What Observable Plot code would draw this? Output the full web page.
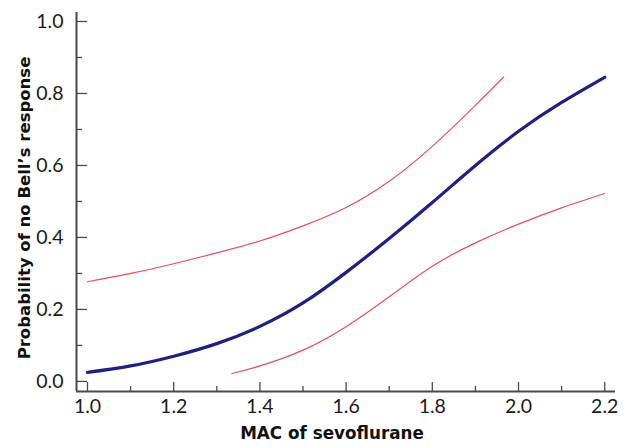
<!DOCTYPE html>
<html><head><meta charset="utf-8">
<script src="https://cdn.jsdelivr.net/npm/d3@7"></script>
<script src="https://cdn.jsdelivr.net/npm/@observablehq/plot@0.6"></script>
<style>body{margin:0;background:#fff}</style>
</head><body><div id="chart"></div>
<script>
// Data
const fitMac = [1.0, 1.1, 1.2, 1.3, 1.4, 1.5, 1.6, 1.7, 1.8, 1.9, 2.0, 2.1, 2.2];
const fitProb = [0.025, 0.043, 0.07, 0.105, 0.153, 0.218, 0.303, 0.397, 0.497, 0.60, 0.695, 0.775, 0.845];
const upperMac = [1.0, 1.1, 1.2, 1.3, 1.4, 1.5, 1.6, 1.7, 1.8, 1.9, 1.965];
const upperProb = [0.277, 0.30, 0.327, 0.357, 0.39, 0.432, 0.483, 0.556, 0.653, 0.767, 0.845];
const lowerMac = [1.335, 1.4, 1.5, 1.6, 1.7, 1.8, 1.9, 2.0, 2.1, 2.2];
const lowerProb = [0.022, 0.043, 0.087, 0.152, 0.235, 0.32, 0.385, 0.437, 0.482, 0.522];
const xTicks = [1.0, 1.2, 1.4, 1.6, 1.8, 2.0, 2.2];
const xMinor = [1.1, 1.3, 1.5, 1.7, 1.9, 2.1];
const yTicks = [0.0, 0.2, 0.4, 0.6, 0.8, 1.0];
const yMinor = [0.1, 0.3, 0.5, 0.7, 0.9];
const xTitle = "MAC of sevoflurane";
const yTitle = "Probability of no Bell\u2019s response";

const fit = fitMac.map((x, i) => ({x, y: fitProb[i]}));
const upper = upperMac.map((x, i) => ({x, y: upperProb[i]}));
const lower = lowerMac.map((x, i) => ({x, y: lowerProb[i]}));

const xDom = [0.9745, 2.225];
const yDom = [-0.028, 1.025];
const axisColor = "#4a4a4a";
const fmt = d3.format(".1f");
const titleFont = "'DejaVu Sans', sans-serif";
const tickFont = "Lato, 'Noto Sans', sans-serif";

const chart = Plot.plot({
  width: 629,
  height: 447,
  marginLeft: 76,
  marginRight: 14,
  marginTop: 12,
  marginBottom: 56,
  style: {fontFamily: tickFont, background: "#fff"},
  x: {domain: xDom, axis: null},
  y: {domain: yDom, axis: null},
  marks: [
    // axis lines
    Plot.ruleX([xDom[0]], {stroke: axisColor, strokeWidth: 2}),
    Plot.ruleY([yDom[0]], {stroke: axisColor, strokeWidth: 2}),
    // inward ticks on y
    Plot.ruleY(yTicks, {y: d => d, x1: xDom[0], x2: xDom[0], insetRight: -11, stroke: axisColor, strokeWidth: 1.3}),
    Plot.ruleY(yMinor, {y: d => d, x1: xDom[0], x2: xDom[0], insetRight: -6, stroke: axisColor, strokeWidth: 1.3}),
    // inward ticks on x
    Plot.ruleX(xTicks, {x: d => d, y1: yDom[0], y2: yDom[0], insetTop: -9, stroke: axisColor, strokeWidth: 1.3}),
    Plot.ruleX(xMinor, {x: d => d, y1: yDom[0], y2: yDom[0], insetTop: -5, stroke: axisColor, strokeWidth: 1.3}),
    // tick labels
    Plot.text(yTicks, {x: xDom[0], y: d => d, text: d => fmt(d), textAnchor: "end", dx: -13, fontFamily: tickFont, fontSize: 19.5, fill: "#1a1a1a"}),
    Plot.text(xTicks, {x: d => d, y: yDom[0], text: d => fmt(d), lineAnchor: "top", dy: 8, fontFamily: tickFont, fontSize: 19.5, fill: "#1a1a1a"}),
    // axis titles
    Plot.text([xTitle], {frameAnchor: "bottom", dx: -14, dy: 47, text: d => d, fontFamily: titleFont, fontWeight: "bold", fontSize: 16.8, fill: "#111"}),
    Plot.text([yTitle], {frameAnchor: "left", dx: -52, dy: 6, textAnchor: "middle", rotate: -90, text: d => d, fontFamily: titleFont, fontWeight: "bold", fontSize: 16.5, fill: "#111"}),
    // confidence bounds
    Plot.line(upper, {x: "x", y: "y", curve: "natural", stroke: "#e0505e", strokeWidth: 1.2}),
    Plot.line(lower, {x: "x", y: "y", curve: "natural", stroke: "#e0505e", strokeWidth: 1.2}),
    // fitted curve
    Plot.line(fit, {x: "x", y: "y", curve: "natural", stroke: "#1f2180", strokeWidth: 3.2})
  ]
});
document.getElementById("chart").appendChild(chart);
</script>
</body></html>
